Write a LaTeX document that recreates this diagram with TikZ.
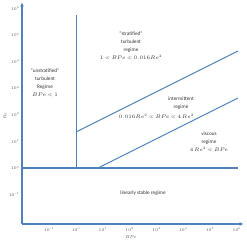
\documentclass[tikz,border=0pt]{standalone}
\usepackage{amsmath}
\usepackage{fontspec}
\usepackage{unicode-math}
\setmainfont{Carlito}
\setmathfont{Latin Modern Math}
\usetikzlibrary{arrows.meta}
\definecolor{lineblue}{HTML}{4F81BD}
\definecolor{ticktext}{HTML}{595959}
\begin{document}
\begin{tikzpicture}[x=1pt,y=-1pt,
  axisline/.style={draw=lineblue,line width=1.5pt,-{Stealth[length=3.5pt,width=3.5pt]}},
  border/.style={draw=lineblue,line width=1.4pt},
  regline/.style={draw=lineblue,line width=1pt},
  tick/.style={font=\fontsize{4.2}{4.2}\selectfont,text=ticktext,inner sep=0pt},
  region/.style={font=\fontsize{5.2}{8}\selectfont,align=center,inner sep=0pt,text=black!80}]
\useasboundingbox (0,0) rectangle (247,243);
% axes
\coordinate (O) at (22,224);
\coordinate (ytop) at (22,3);
\coordinate (xend) at (243,224);
\draw[axisline] (O) -- (ytop);
\draw[axisline] (O) -- (xend);
% boundaries
\coordinate (h1) at (22,168);
\coordinate (h2) at (238,168);
\coordinate (v1) at (76,168);
\coordinate (v2) at (76,15);
\coordinate (u1) at (76,132);
\coordinate (u2) at (238,51);
\coordinate (l1) at (98,168);
\coordinate (l2) at (238,98);
\draw[border] (h1) -- (h2);
\draw[regline] (v1) -- (v2);
\draw[regline] (u1) -- (u2);
\draw[regline] (l1) -- (l2);
% y tick labels
\foreach \k/\lab in {-1/{-1},0/0,1/1,2/2,3/3,4/4,5/5,6/6}{
  \node[tick,anchor=east] (yt\k) at (19.5,168-26.6*\k) {$10^{\lab}$};
}
% x tick labels
\foreach \k/\lab in {-1/{-1},0/0,1/1,2/2,3/3,4/4,5/5,6/6}{
  \node[tick] (xt\k) at (76+26.8*\k,229.5) {$10^{\lab}$};
}
\node[tick,rotate=90] (ylab) at (5,116) {$Re$};
\node[tick] (xlab) at (131,237) {$BPe$};
% region labels
\node[region] (unstrat) at (45,82.5) {“unstratified”\\turbulent\\Regime\\$BPe \ll 1$};
\node[region] (strat) at (131,45.5) {“stratified”\\turbulent\\regime\\$1 \ll BPe \ll 0.016Re^2$};
\node[region] (inter1) at (181,99) {intermittent};
\node[region] (inter2) at (181,107.5) {regime};
\node[region,anchor=east] (inter3) at (194,116.5) {$0.016Re^2 \ll BPe \ll 4\,Re^2$};
\node[region] (visc) at (209,142) {viscous\\regime\\$4\,Re^2 \ll BPe$};
\node[region] (stable) at (143,193) {linearly stable regime};
\end{tikzpicture}
\end{document}
